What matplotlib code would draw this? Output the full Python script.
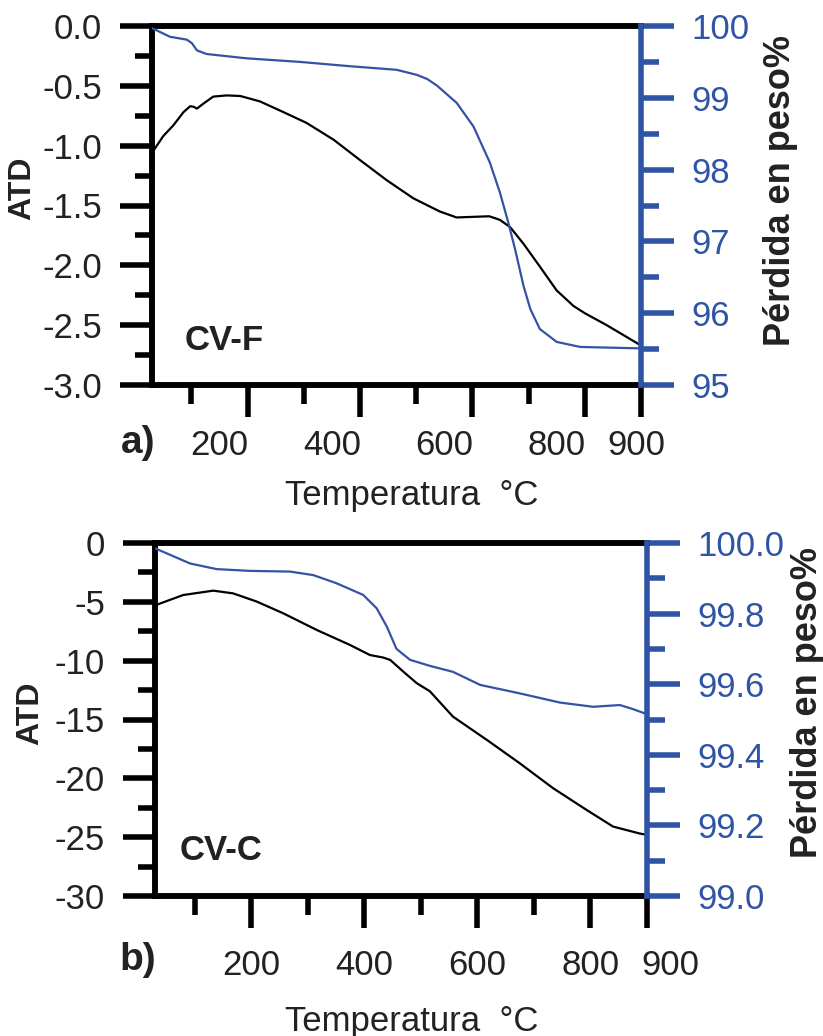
import matplotlib
matplotlib.use("Agg")
import matplotlib.pyplot as plt
from matplotlib.ticker import FixedLocator, MultipleLocator

plt.rcParams['font.family'] = ['Liberation Sans', 'DejaVu Sans']
plt.rcParams['axes.unicode_minus'] = False

# ---------------- Data ----------------
# Panel a) CV-F
temp_atd_a = [30, 50, 68, 86, 98, 104, 110, 121, 139, 163, 187, 222, 264, 305, 353, 400,
              448, 495, 542, 572, 600, 630, 649, 667, 691, 720, 750, 780, 800, 839, 900]
atd_a = [-1.06, -0.92, -0.83, -0.72, -0.67, -0.675, -0.69, -0.65, -0.59, -0.58, -0.585,
         -0.63, -0.72, -0.81, -0.95, -1.12, -1.29, -1.44, -1.55, -1.60, -1.595, -1.59,
         -1.62, -1.68, -1.82, -2.01, -2.21, -2.34, -2.40, -2.50, -2.67]
temp_w_a = [30, 62, 92, 101, 110, 127, 198, 293, 382, 465, 501, 520, 537, 572, 602, 631,
            649, 664, 676, 691, 703, 720, 750, 792, 900]
w_a = [99.97, 99.85, 99.81, 99.76, 99.66, 99.61, 99.55, 99.50, 99.44, 99.39, 99.32,
       99.26, 99.17, 98.93, 98.60, 98.10, 97.68, 97.26, 96.89, 96.38, 96.06, 95.78,
       95.60, 95.53, 95.51]

# Panel b) CV-C
temp_atd_b = [30, 80, 133, 168, 210, 257, 316, 375, 410, 434, 446, 469, 493, 516, 557,
              617, 675, 734, 793, 840, 888, 900]
atd_b = [-5.3, -4.42, -4.05, -4.28, -4.98, -5.98, -7.39, -8.67, -9.52, -9.74, -9.94,
         -10.93, -11.92, -12.6, -14.76, -16.74, -18.72, -20.84, -22.68, -24.10, -24.7,
         -24.8]
temp_w_b = [30, 92, 139, 198, 269, 310, 351, 398, 422, 440, 457, 481, 516, 557, 605,
            675, 746, 805, 852, 876, 900]
w_b = [99.985, 99.942, 99.926, 99.921, 99.919, 99.909, 99.886, 99.853, 99.815, 99.763,
       99.70, 99.669, 99.652, 99.635, 99.598, 99.574, 99.548, 99.536, 99.541, 99.529,
       99.515]

x_major = [200, 400, 600, 800, 900]
x_minor = [100, 300, 500, 700]
x_labels = ['200', '400', '600', '800', '900']

BLUE = '#2f54a6'
LINE_BLUE = '#3552a3'
TXT = '#222222'
FS = 25

fig = plt.figure(figsize=(8.23, 10.36), dpi=100)


def make_panel(rect, tx, ya, tw, yw, ylim_l, lmaj, lmin, ylim_r, rmaj, rmin, lfmt, rfmt,
               name, name_xy, letter, letter_xy, xlab_y, ylab_l, ylab_r, xpad,
               label_shifts):
    ax = fig.add_axes(rect)
    ax2 = ax.twinx()
    ax.plot(tx, ya, color='black', lw=1.6, zorder=3)
    ax2.plot(tw, yw, color=LINE_BLUE, lw=1.6, zorder=3)
    ax.set_xlim(30, 900)
    ax.set_ylim(*ylim_l)
    ax2.set_ylim(*ylim_r)

    lw = 4.0
    for sp in ['left', 'top', 'bottom']:
        ax.spines[sp].set_linewidth(lw)
        ax2.spines[sp].set_linewidth(lw)
    ax.spines['right'].set_visible(False)
    ax2.spines['right'].set_linewidth(lw)
    ax2.spines['right'].set_color(BLUE)
    ax2.spines['right'].set_zorder(5)

    # x ticks (labels drawn individually below, as in the reference they are offset)
    ax.xaxis.set_major_locator(FixedLocator(x_major))
    ax.xaxis.set_minor_locator(FixedLocator(x_minor))
    ax.tick_params(axis='x', which='major', direction='out', length=23, width=lw,
                   top=False, labelbottom=False, colors='black')
    ax.tick_params(axis='x', which='minor', direction='out', length=14, width=lw, top=False)
    ax2.tick_params(axis='x', which='major', direction='in', length=23, width=lw,
                    top=True, bottom=False, labeltop=False, labelbottom=False)
    ax2.tick_params(axis='x', which='minor', direction='in', length=12, width=lw,
                    top=True, bottom=False)
    ax2.xaxis.set_minor_locator(FixedLocator(x_minor))
    for v, lab, dx in zip(x_major, x_labels, label_shifts):
        ax.annotate(lab, xy=(v, 0), xycoords=('data', 'axes fraction'),
                    xytext=(dx, -23 - xpad), textcoords='offset points',
                    fontsize=FS, ha='center', va='top', color=TXT,
                    annotation_clip=False)

    # left y ticks
    ax.yaxis.set_major_locator(MultipleLocator(lmaj))
    ax.yaxis.set_minor_locator(MultipleLocator(lmin))
    ax.yaxis.set_major_formatter(lfmt)
    ax.tick_params(axis='y', which='major', direction='out', length=23, width=lw,
                   labelsize=FS, pad=13, labelcolor=TXT)
    ax.tick_params(axis='y', which='minor', direction='out', length=12, width=lw)

    # right y ticks
    ax2.yaxis.set_major_locator(MultipleLocator(rmaj))
    ax2.yaxis.set_minor_locator(MultipleLocator(rmin))
    ax2.yaxis.set_major_formatter(rfmt)
    ax2.tick_params(axis='y', which='major', direction='out', length=24, width=lw,
                    labelsize=FS, pad=12, colors=BLUE, labelcolor=BLUE)
    ax2.tick_params(axis='y', which='minor', direction='out', length=13, width=lw,
                    colors=BLUE)

    ax.set_ylabel('ATD', fontsize=23, fontweight='bold', color=TXT)
    ax.yaxis.set_label_coords(*ylab_l)
    ax2.set_ylabel('Pérdida en peso%', fontsize=26, fontweight='bold', color=TXT)
    ax2.yaxis.set_label_coords(*ylab_r)

    ax.text(name_xy[0], name_xy[1], name, transform=ax.transAxes, fontsize=FS,
            fontweight='bold', va='center', ha='left', color=TXT)
    fig.text(letter_xy[0], letter_xy[1], letter, fontsize=28, fontweight='bold',
             va='center', ha='center', color=TXT)
    fig.text(0.5 * (277 + 546) / 823, xlab_y, 'Temperatura  °C', fontsize=25,
             va='center', ha='center', color=TXT)
    return ax, ax2


make_panel([152 / 823, 1 - 385 / 1036, (641 - 152) / 823, (385 - 26) / 1036],
           temp_atd_a, atd_a, temp_w_a, w_a, (-3.0, 0.0), 0.5, 0.25,
           (95, 100), 1, 0.5, '{x:.1f}', '{x:.0f}',
           'CV-F', (0.067, 0.125), 'a)', (138 / 823, 1 - 443 / 1036),
           1 - 495 / 1036, (-0.235, 0.549), (1.25, 0.543), 9,
           [-20, -20, -20, -20, -3])

make_panel([155 / 823, 1 - 896 / 1036, (647 - 155) / 823, (896 - 543) / 1036],
           temp_atd_b, atd_b, temp_w_b, w_b, (-30, 0), 5, 2.5,
           (99.0, 100.0), 0.2, 0.1, '{x:.0f}', '{x:.1f}',
           'CV-C', (0.051, 0.13), 'b)', (138 / 823, 1 - 960 / 1036),
           1 - 1021 / 1036, (-0.224, 0.518), (1.29, 0.547), 15,
           [0, 0, 0, 0, 17])

fig.savefig('out.png', dpi=100)
